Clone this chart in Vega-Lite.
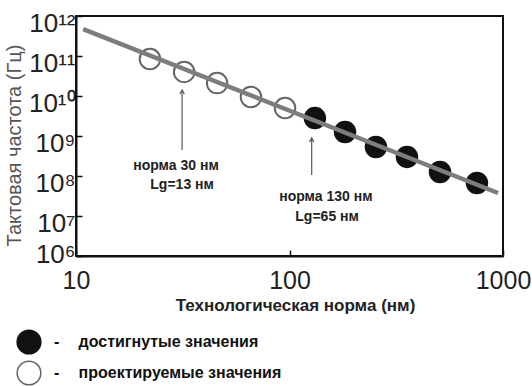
{
  "$schema": "https://vega.github.io/schema/vega-lite/v6.json",
  "width": 427,
  "height": 240,
  "autosize": "none",
  "padding": {"left": 76, "top": 16, "right": 29, "bottom": 130},
  "background": "white",
  "config": {
    "view": {"stroke": "#111", "strokeWidth": 2},
    "font": "Liberation Sans, Arial, sans-serif"
  },
  "datasets": {
    "points": [
      {"norm": 22.2, "freq": 8.4e10, "status": "проектируемые значения"},
      {"norm": 32.1, "freq": 4.0e10, "status": "проектируемые значения"},
      {"norm": 45.8, "freq": 2.1e10, "status": "проектируемые значения"},
      {"norm": 66, "freq": 9.4e9, "status": "проектируемые значения"},
      {"norm": 95.3, "freq": 5.0e9, "status": "проектируемые значения"},
      {"norm": 131.5, "freq": 2.8e9, "status": "достигнутые значения"},
      {"norm": 182, "freq": 1.26e9, "status": "достигнутые значения"},
      {"norm": 254, "freq": 5.3e8, "status": "достигнутые значения"},
      {"norm": 355, "freq": 3.0e8, "status": "достигнутые значения"},
      {"norm": 507, "freq": 1.26e8, "status": "достигнутые значения"},
      {"norm": 755, "freq": 6.7e7, "status": "достигнутые значения"}
    ],
    "fit": [
      {"norm": 10.8, "freq": 4.7e11},
      {"norm": 948, "freq": 3.76e7}
    ],
    "arrows": [
      {"norm": 31.4, "top": 1.41e10, "bottom": 4.47e8},
      {"norm": 127, "top": 8.9e8, "bottom": 1.06e8}
    ],
    "notes": [
      {"norm": 29.4, "freq": 1.78e8, "text": "норма 30 нм"},
      {"norm": 31.4, "freq": 5.96e7, "text": "Lg=13 нм"},
      {"norm": 148, "freq": 2.99e7, "text": "норма 130 нм"},
      {"norm": 150, "freq": 9.4e6, "text": "Lg=65 нм"}
    ]
  },
  "layer": [
    {
      "data": {"name": "points"},
      "mark": {"type": "point", "filled": true, "size": 420, "strokeWidth": 2, "opacity": 1},
      "encoding": {
        "x": {
          "field": "norm", "type": "quantitative",
          "scale": {"type": "log", "domain": [10, 1000], "nice": false},
          "axis": {
            "title": "Технологическая норма (нм)",
            "values": [10, 100, 1000],
            "grid": false,
            "domainColor": "#111", "domainWidth": 2,
            "tickColor": "#111", "tickWidth": 1.5, "tickSize": -6,
            "labelFontSize": 25, "labelColor": "#222", "labelPadding": 18,
            "labelFlush": false,
            "labelExpr": "format(datum.value, 'd')",
            "titleFontSize": 17, "titleFontWeight": "bold", "titleColor": "#222",
            "titleX": 219, "titleY": 49, "titleBaseline": "middle", "titleAlign": "center"
          }
        },
        "y": {
          "field": "freq", "type": "quantitative",
          "scale": {"type": "log", "domain": [1e6, 1e12], "nice": false},
          "axis": {
            "title": "Тактовая частота (Гц)",
            "values": [1e6, 1e7, 1e8, 1e9, 1e10, 1e11, 1e12],
            "grid": false,
            "domainColor": "#111", "domainWidth": 2,
            "tickColor": "#111", "tickWidth": 1.5, "tickSize": -6,
            "labelFontSize": 26, "labelColor": "#222", "labelPadding": 7,
            "labelOffset": {"condition": {"test": "datum.value < 3e6", "value": -2}, "value": 7},
            "labelFlush": false,
            "labelExpr": "['10⁶','10⁷','10⁸','10⁹','10¹⁰','10¹¹','10¹²'][round(log(datum.value)/LN10) - 6]",
            "titleFontSize": 20, "titleFontWeight": "normal", "titleColor": "#555",
            "titleX": -62, "titleY": 129, "titleBaseline": "middle", "titleAlign": "center", "titleAngle": -90
          }
        },
        "fill": {
          "field": "status", "type": "nominal",
          "scale": {"domain": ["достигнутые значения", "проектируемые значения"], "range": ["#111111", "#ffffff"]},
          "legend": {
            "title": null,
            "orient": "none", "legendX": -60, "legendY": 313,
            "padding": 0,
            "symbolSize": 560, "symbolStrokeWidth": 1.5, "symbolStrokeColor": "#222",
            "labelFontSize": 16, "labelFontWeight": "bold", "labelColor": "#111",
            "labelOffset": 12, "rowPadding": 1, "labelLimit": 400,
            "labelExpr": "'-\u2003\u2009' + datum.label"
          }
        },
        "stroke": {
          "field": "status", "type": "nominal",
          "scale": {"domain": ["достигнутые значения", "проектируемые значения"], "range": ["#111111", "#666666"]},
          "legend": null
        }
      }
    },
    {
      "data": {"name": "fit"},
      "mark": {"type": "line", "color": "#7d7d7d", "strokeWidth": 4.5},
      "encoding": {
        "x": {"field": "norm", "type": "quantitative"},
        "y": {"field": "freq", "type": "quantitative"}
      }
    },
    {
      "data": {"name": "arrows"},
      "mark": {"type": "rule", "color": "#666", "strokeWidth": 1.3},
      "encoding": {
        "x": {"field": "norm", "type": "quantitative"},
        "y": {"field": "top", "type": "quantitative"},
        "y2": {"field": "bottom"}
      }
    },
    {
      "data": {"name": "arrows"},
      "mark": {"type": "point", "shape": "M-1,1.8L0,0L1,1.8", "filled": false, "size": 20, "stroke": "#555", "strokeWidth": 1.3, "opacity": 1},
      "encoding": {
        "x": {"field": "norm", "type": "quantitative"},
        "y": {"field": "top", "type": "quantitative"}
      }
    },
    {
      "data": {"name": "notes"},
      "mark": {"type": "text", "fontSize": 14, "fontWeight": "bold", "color": "#222", "align": "center", "baseline": "middle"},
      "encoding": {
        "x": {"field": "norm", "type": "quantitative"},
        "y": {"field": "freq", "type": "quantitative"},
        "text": {"field": "text"}
      }
    }
  ]
}
